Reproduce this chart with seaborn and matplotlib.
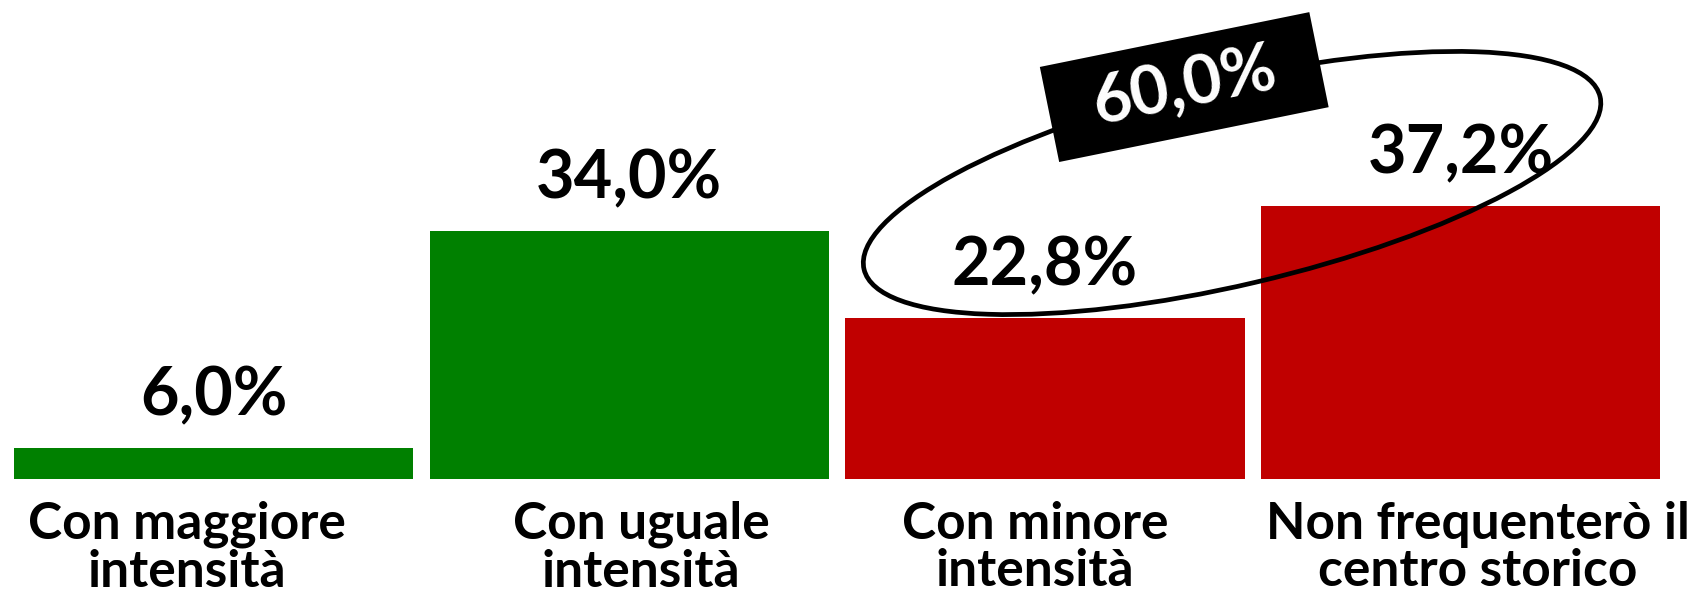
import matplotlib
matplotlib.use("Agg")
import matplotlib.pyplot as plt
import matplotlib.transforms as mtransforms
from matplotlib.patches import Ellipse, Rectangle
import seaborn as sns

# ---- data ----
categories = ["Con maggiore\nintensità", "Con uguale\nintensità",
              "Con minore\nintensità", "Non frequenterò il\ncentro storico"]
values = [6.0, 34.0, 22.8, 37.2]
value_labels = ["6,0%", "34,0%", "22,8%", "37,2%"]
bar_colors = ["#008000", "#008000", "#C00000", "#C00000"]
group_label = "60,0%"

sns.set_theme(style="white")
plt.rcParams["font.family"] = ["Lato", "DejaVu Sans"]

fig = plt.figure(figsize=(17.01, 6.01), dpi=100)
ax = fig.add_axes([0, 0.2038, 1, 0.7962])

sns.barplot(x=categories, y=values, hue=categories, palette=bar_colors,
            width=0.96, linewidth=0, saturation=1, legend=False, ax=ax)

ax.set_xlim(-0.5136, 3.578)
ax.set_ylim(2.14, 63.64)
ax.set_xticks([])
ax.set_yticks([])
ax.set_xlabel("")
ax.set_ylabel("")
for s in ax.spines.values():
    s.set_visible(False)

# value labels
for i, (v, lab) in enumerate(zip(values, value_labels)):
    ax.annotate(lab, (i, v), xytext=(0, 23.5), textcoords="offset points",
                ha="center", va="baseline", fontsize=48, fontweight="bold",
                color="black", zorder=5)

# category labels (below the axis)
label_dx_px = [-27, 12, -10, 17]
for i, cat in enumerate(categories):
    tr = ax.get_xaxis_transform() + mtransforms.ScaledTranslation(
        label_dx_px[i] / 100.0, -22 / 100.0, fig.dpi_scale_trans)
    ax.text(i, 0, cat, transform=tr, ha="center", va="top",
            fontsize=37, fontweight="bold", color="black",
            linespacing=1.02, multialignment="center", clip_on=False)

# ellipse around the two red labels
ell_tr = fig.dpi_scale_trans + mtransforms.ScaledTranslation(2.450, 40.12, ax.transData)
ax.add_patch(Ellipse((0, 0), width=7.56, height=2.04, angle=13.2,
                     transform=ell_tr, fill=False, edgecolor="black",
                     linewidth=3.4, zorder=6, clip_on=False))

# black tag with total
box_tr = fig.dpi_scale_trans + mtransforms.ScaledTranslation(2.335, 52.45, ax.transData)
ax.add_patch(Rectangle((-1.375, -0.485), 2.75, 0.97, angle=11.5,
                       rotation_point=(0, 0), transform=box_tr,
                       facecolor="black", edgecolor="none", zorder=7,
                       clip_on=False))
ax.text(0, 0, group_label, transform=box_tr, ha="center", va="center",
        rotation=11.5, rotation_mode="anchor", fontsize=48,
        fontweight="bold", color="white", zorder=8)

fig.savefig("out.png", dpi=100, facecolor="white")
